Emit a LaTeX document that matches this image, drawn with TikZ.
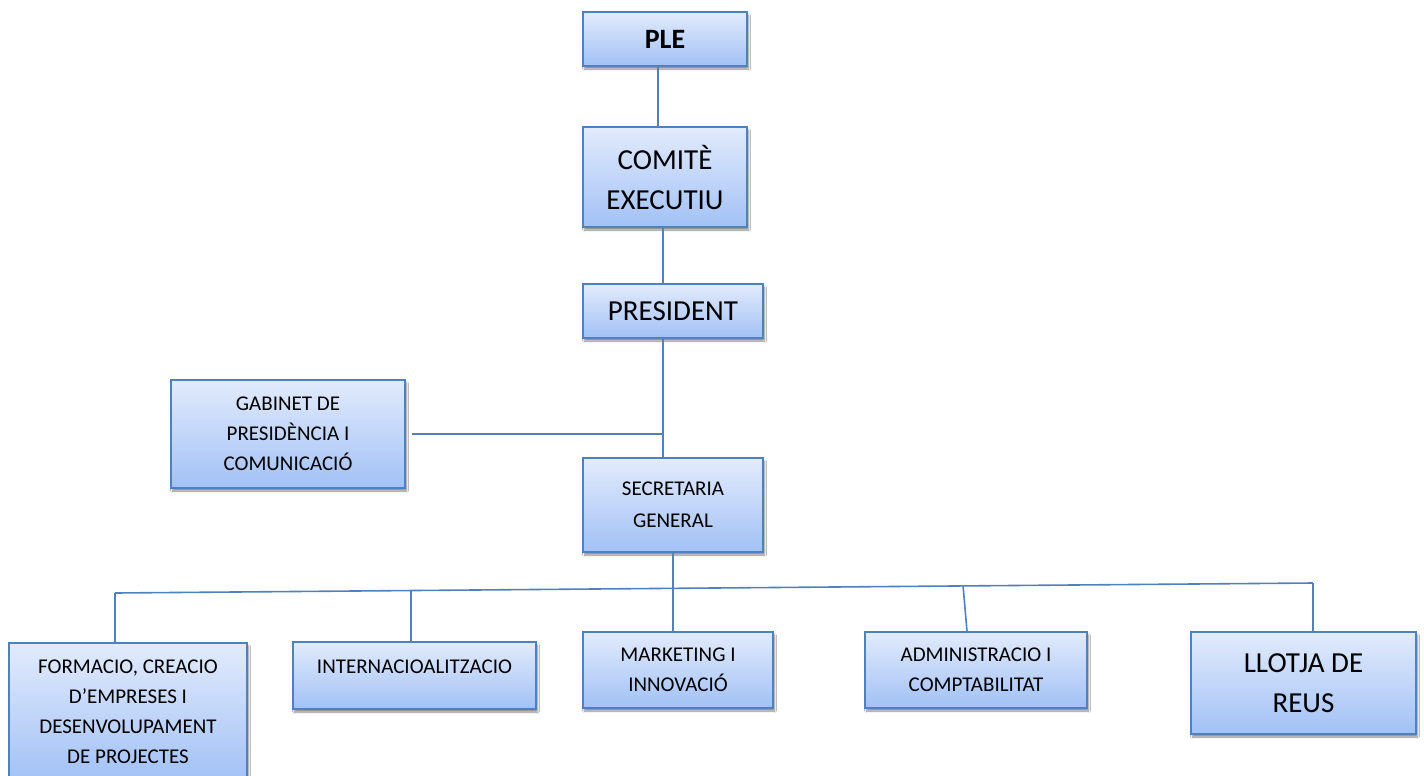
\documentclass[tikz,border=0pt]{standalone}
\usepackage{fontspec}
\setmainfont{Carlito}
\usetikzlibrary{shadows.blur,calc}
\definecolor{lineblue}{RGB}{79,129,189}
\definecolor{boxtop}{RGB}{226,235,252}
\definecolor{boxbot}{RGB}{162,193,246}
\tikzset{
 orgbox/.style={draw=lineblue, line width=1.5pt, top color=boxtop, bottom color=boxbot,
   blur shadow={shadow xshift=1.5pt, shadow yshift=-3pt, shadow blur steps=6, shadow opacity=45},
   align=center, inner sep=0pt, text=black},
 small/.style={font=\fontsize{21}{30}\selectfont},
 big/.style={font=\fontsize{29}{40}\selectfont},
 conn/.style={draw=lineblue, line width=1.6pt},
}
\begin{document}
\begin{tikzpicture}[x=1pt,y=1pt]
\fill[white] (0,0) rectangle (1424,-776);
\useasboundingbox (0,0) rectangle (1424,-776);
\node[orgbox, minimum width=164pt, minimum height=54pt, font=\fontsize{28}{34}\selectfont\bfseries] (ple) at (665,-39) {PLE};
\node[orgbox, big, minimum width=164pt, minimum height=100pt] (com) at (665,-177) {COMITÈ\\EXECUTIU};
\node[orgbox, big, minimum width=180pt, minimum height=54pt] (pres) at (673,-311) {PRESIDENT};
\node[orgbox, small, minimum width=234pt, minimum height=108pt] (gab) at (288,-434) {GABINET DE\\PRESIDÈNCIA I\\COMUNICACIÓ};
\node[orgbox, font=\fontsize{21}{31.5}\selectfont, minimum width=180pt, minimum height=94pt] (sec) at (673,-505) {SECRETARIA\\GENERAL};
\node[orgbox, small, minimum width=238pt, minimum height=138pt] (form) at (128,-712) {FORMACIO, CREACIO\\D’EMPRESES I\\DESENVOLUPAMENT\\DE PROJECTES};
\node[orgbox, small, minimum width=243pt, minimum height=67pt, text depth=17pt] (int) at (414.5,-675.5) {INTERNACIOALITZACIO};
\node[orgbox, small, minimum width=190pt, minimum height=76pt] (mkt) at (678,-670) {MARKETING I\\INNOVACIÓ};
\node[orgbox, small, minimum width=222pt, minimum height=76pt] (adm) at (976,-670) {ADMINISTRACIO I\\COMPTABILITAT};
\node[orgbox, big, minimum width=225pt, minimum height=102pt] (llo) at (1303.5,-683) {LLOTJA DE\\REUS};

\coordinate (j1) at (663,-434);
\coordinate (busL) at (115,-593);
\coordinate (busR) at (1313,-583);
\coordinate (busM) at (673,-588);
\coordinate (busI) at (411,-590.5);
\coordinate (busA) at (963,-585);

\draw[conn] ([xshift=-7pt]ple.south) -- ([xshift=-7pt]com.north);
\draw[conn] ([xshift=-2pt]com.south) -- ([xshift=-10pt]pres.north);
\draw[conn] ([xshift=-10pt]pres.south) -- ([xshift=-10pt]sec.north);
\draw[conn] ([xshift=6pt]gab.east) -- (j1);
\draw[conn] (sec.south) -- (busM);
\draw[conn] (busL) -- (busR);
\draw[conn] (busL) -- ([xshift=-13pt]form.north);
\draw[conn] (busI) -- ([xshift=-3.5pt]int.north);
\draw[conn] (busM) -- ([xshift=-5pt]mkt.north);
\draw[conn] (busA) -- ([xshift=-9pt]adm.north);
\draw[conn] (busR) -- ([xshift=9.5pt]llo.north);
\end{tikzpicture}
\end{document}
